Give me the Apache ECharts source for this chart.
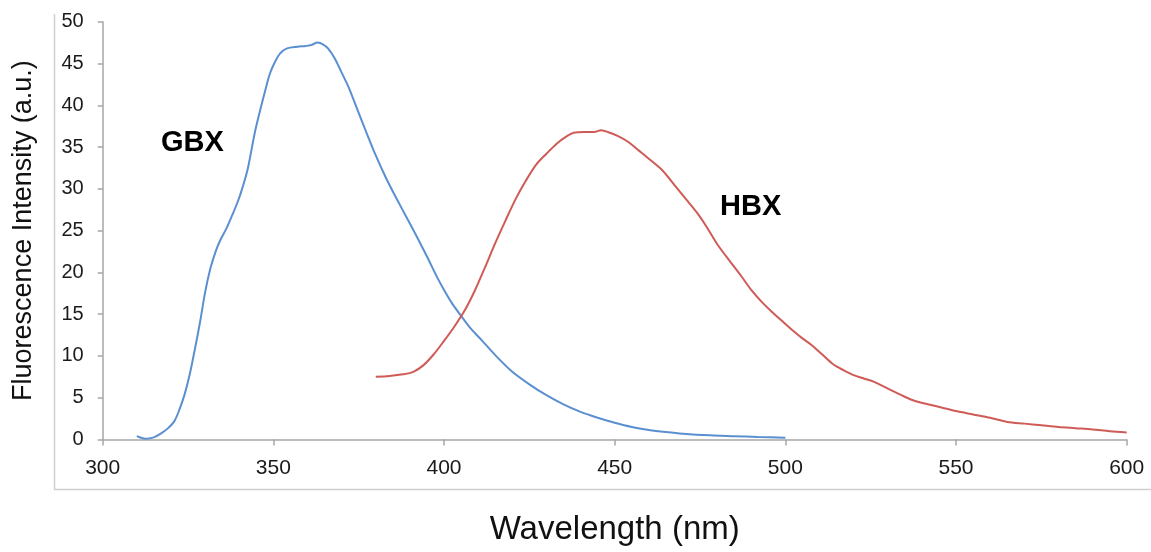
<!DOCTYPE html>
<html>
<head>
<meta charset="utf-8">
<script src="https://cdn.jsdelivr.net/npm/echarts@6/dist/echarts.min.js"></script>
<style>
  html, body { margin: 0; padding: 0; background: #fff; }
  #chart { width: 1151px; height: 552px; }
</style>
</head>
<body>
<div id="chart"></div>
<script>
// GBX emission (blue)
var gbxWavelength = [310, 312.5, 315, 317, 319, 321, 322.5, 324, 325.5, 327, 328.5, 330, 331.5, 333, 334.5, 336.3, 338, 339.7, 341, 342.5, 344.5, 346, 347.5, 349, 350.5, 352, 354, 357, 359.5, 361, 363, 364.5, 366, 368, 370, 372, 374.5, 377.5, 380, 383, 386, 389, 392, 395, 398, 400, 402.5, 405, 408, 411, 415, 420, 425, 430, 435, 440, 445, 450, 455, 460, 465, 470, 478, 485, 492, 500];
var gbxIntensity = [0.4, 0.1, 0.25, 0.7, 1.3, 2.2, 3.6, 5.4, 7.8, 10.8, 14.0, 17.6, 20.4, 22.4, 23.9, 25.3, 26.9, 28.6, 30.2, 32.4, 36.6, 39.2, 41.6, 43.8, 45.2, 46.2, 46.8, 47.0, 47.1, 47.2, 47.5, 47.3, 46.8, 45.6, 43.9, 42.2, 39.6, 36.5, 34.0, 31.3, 28.9, 26.6, 24.3, 21.9, 19.4, 17.9, 16.2, 14.8, 13.2, 11.9, 10.1, 8.1, 6.6, 5.3, 4.2, 3.3, 2.6, 2.0, 1.5, 1.15, 0.9, 0.7, 0.5, 0.4, 0.3, 0.2];

// HBX emission (red)
var hbxWavelength = [380, 384, 388, 391, 394, 397, 400, 403, 406, 409, 412, 415, 418, 421, 424, 427, 430, 433, 436, 438, 441, 444, 446, 448, 451, 454, 457, 460, 464, 468, 471, 474, 477, 480, 484, 487, 490, 493, 496, 499, 502, 505, 508, 511, 514, 517, 520, 523, 526, 530, 534, 538, 542, 546, 550, 555, 560, 565, 570, 575, 580, 585, 590, 595, 600];
var hbxIntensity = [7.5, 7.6, 7.8, 8.1, 8.9, 10.2, 11.8, 13.5, 15.4, 17.8, 20.6, 23.5, 26.2, 28.8, 31.0, 32.9, 34.2, 35.4, 36.3, 36.7, 36.8, 36.8, 37.0, 36.8, 36.3, 35.6, 34.6, 33.6, 32.2, 30.2, 28.7, 27.2, 25.4, 23.4, 21.2, 19.6, 17.9, 16.5, 15.3, 14.2, 13.1, 12.1, 11.2, 10.1, 9.0, 8.3, 7.7, 7.3, 6.9, 6.1, 5.3, 4.6, 4.2, 3.8, 3.4, 3.0, 2.6, 2.1, 1.9, 1.7, 1.5, 1.35, 1.2, 1.0, 0.85];

function pairs(xs, ys) {
  return xs.map(function (x, i) { return [x, ys[i]]; });
}

var chart = echarts.init(document.getElementById('chart'));
var font = 'Liberation Sans, Arial, sans-serif';
var axisGrey = '#a6a6a6';

var option = {
  animation: false,
  backgroundColor: '#fff',
  grid: { left: 102.7, right: 24.3, top: 21.7, bottom: 112.5 },
  xAxis: {
    type: 'value',
    min: 300,
    max: 600,
    interval: 50,
    name: 'Wavelength (nm)',
    nameLocation: 'middle',
    nameGap: 74,
    nameTextStyle: { fontFamily: font, fontSize: 33, color: '#111' },
    axisLine: { lineStyle: { color: axisGrey, width: 1.5 } },
    axisTick: { show: true, length: 6, lineStyle: { color: axisGrey, width: 1.5 } },
    axisLabel: { margin: 18, fontFamily: font, fontSize: 21, color: '#1a1a1a' },
    splitLine: { show: false }
  },
  yAxis: {
    type: 'value',
    min: 0,
    max: 50,
    interval: 5,
    name: 'Fluorescence Intensity (a.u.)',
    nameLocation: 'middle',
    nameGap: 66,
    nameTextStyle: { fontFamily: font, fontSize: 27, color: '#111' },
    axisLine: { show: true, lineStyle: { color: axisGrey, width: 1.5 } },
    axisTick: { show: true, length: 5, lineStyle: { color: axisGrey, width: 1.5 } },
    axisLabel: { margin: 19, fontFamily: font, fontSize: 20, color: '#1a1a1a' },
    splitLine: { show: false }
  },
  series: [
    {
      name: 'GBX',
      type: 'line',
      data: pairs(gbxWavelength, gbxIntensity),
      showSymbol: false,
      smooth: 0.3,
      lineStyle: { color: '#5a8fd0', width: 2 }
    },
    {
      name: 'HBX',
      type: 'line',
      data: pairs(hbxWavelength, hbxIntensity),
      showSymbol: false,
      smooth: 0.3,
      lineStyle: { color: '#cf5b57', width: 2 }
    }
  ],
  graphic: [
    // outer frame left of and below the plot
    { type: 'line', shape: { x1: 54.5, y1: 14, x2: 54.5, y2: 489.5 }, style: { stroke: '#cfcfcf', lineWidth: 1.5 } },
    { type: 'line', shape: { x1: 54, y1: 489.5, x2: 1151, y2: 489.5 }, style: { stroke: '#cfcfcf', lineWidth: 1.5 } },
    { type: 'text', left: 161, top: 128, style: { text: 'GBX', font: 'bold 29px ' + font, fill: '#000' } },
    { type: 'text', left: 720, top: 192, style: { text: 'HBX', font: 'bold 29px ' + font, fill: '#000' } }
  ]
};

chart.setOption(option);
</script>
</body>
</html>
